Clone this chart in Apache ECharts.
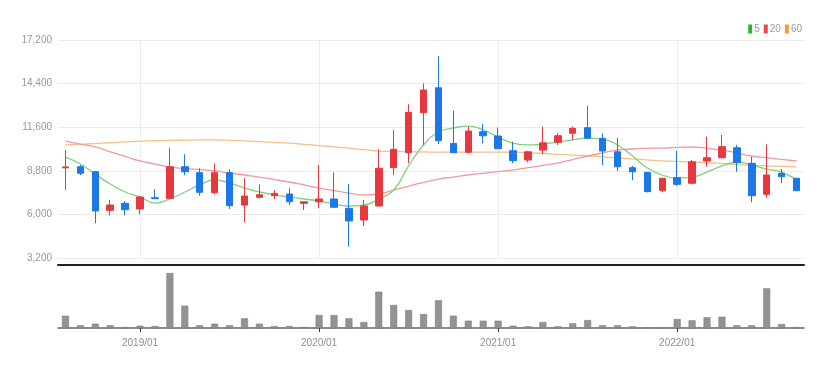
<!DOCTYPE html>
<html>
<head>
<meta charset="utf-8">
<script src="https://cdn.jsdelivr.net/npm/echarts@6/dist/echarts.min.js"></script>
<style>
  html, body { margin: 0; padding: 0; background: #fff; }
  #chart { width: 839px; height: 369px; }
</style>
</head>
<body>
<div id="chart"></div>
<script>
// monthly bars, 2018/08 .. 2022/09
const months = [
  '2018/08', '2018/09', '2018/10', '2018/11', '2018/12',
  '2019/01', '2019/02', '2019/03', '2019/04', '2019/05', '2019/06', '2019/07', '2019/08', '2019/09', '2019/10', '2019/11', '2019/12',
  '2020/01', '2020/02', '2020/03', '2020/04', '2020/05', '2020/06', '2020/07', '2020/08', '2020/09', '2020/10', '2020/11', '2020/12',
  '2021/01', '2021/02', '2021/03', '2021/04', '2021/05', '2021/06', '2021/07', '2021/08', '2021/09', '2021/10', '2021/11', '2021/12',
  '2022/01', '2022/02', '2022/03', '2022/04', '2022/05', '2022/06', '2022/07', '2022/08', '2022/09'
];

const opens = [8990, 9060, 8740, 6260, 6710, 6350, 7070, 7030, 9060, 8680, 7390, 8680, 6600, 7100, 7200, 7310, 6710, 6810, 6990, 6390,
  5640, 6540, 9000, 9960, 12530, 14130, 10560, 9990, 11310, 11030, 10090, 9490, 10130, 10630, 11210, 11570, 10890, 10020, 9000, 8700,
  7520, 8360, 8000, 9430, 9640, 10280, 9280, 7290, 8640, 8320];
const closes = [9050, 8640, 6220, 6600, 6300, 7120, 7010, 9060, 8740, 7420, 8680, 6560, 7180, 7260, 7350, 6810, 6810, 6990, 6460, 5580,
  6540, 8960, 10180, 12550, 13990, 10730, 9960, 11350, 11050, 10220, 9450, 10020, 10600, 11050, 11530, 10890, 10070, 9060, 8740, 7460,
  8320, 7930, 9380, 9640, 10350, 9320, 7200, 8530, 8420, 7520];
const lows = [7570, 8530, 5430, 5920, 5960, 6010, 7000, 7030, 8530, 7200, 7290, 6350, 5490, 7030, 6990, 6600, 6280, 6390, 6460, 3930,
  5250, 6540, 8530, 9280, 10460, 10520, 9960, 9920, 10560, 10220, 9280, 9340, 9860, 10460, 10780, 10890, 9170, 8790, 8210, 7420,
  7420, 7820, 7930, 9060, 9600, 8740, 6780, 7070, 8000, 7500];
const highs = [10130, 9170, 8780, 6920, 6860, 7180, 7610, 10280, 9860, 8960, 9280, 8900, 8320, 7930, 7570, 7680, 6810, 9170, 8700, 7950,
  6920, 10180, 11420, 13070, 14420, 16170, 12660, 11630, 11800, 11580, 10670, 10070, 11630, 11210, 11630, 12980, 11210, 10920, 9110, 8720,
  8330, 10070, 9490, 10990, 11100, 10460, 9700, 10500, 8910, 8330];

const ma5 = [9680, 9240, 8590, 7950, 7440, 7120, 6730, 6990, 7440, 7890, 8210, 8020, 7690, 7440, 7250, 7120, 6990, 6860, 6670, 6540,
  6600, 6990, 7570, 9110, 10460, 11290, 11550, 11670, 11420, 10970, 10580, 10460, 10520, 10650, 10780, 10900, 10840, 10460, 9750, 8980,
  8530, 8340, 8400, 8720, 9110, 9360, 9170, 8910, 8720, 8210];
const ma20 = [10710, 10520, 10330, 10020, 9720, 9430, 9230, 9040, 8950, 8870, 8790, 8660, 8530, 8400, 8240, 8080, 7890, 7690, 7530, 7370,
  7250, 7310, 7570, 7820, 8050, 8270, 8400, 8530, 8640, 8750, 8850, 9000, 9150, 9300, 9520, 9750, 9950, 10130, 10200, 10240,
  10260, 10300, 10330, 10250, 10130, 9950, 9750, 9640, 9530, 9430];
const ma60 = [10460, 10500, 10550, 10600, 10660, 10710, 10730, 10750, 10770, 10780, 10780, 10760, 10720, 10670, 10620, 10580, 10500, 10420, 10340, 10260,
  10160, 10070, 10040, 10020, 10010, 10000, 10000, 10000, 10000, 10000, 10000, 9960, 9910, 9860, 9810, 9760, 9690, 9620, 9560, 9500,
  9440, 9400, 9360, 9330, 9270, 9200, 9150, 9110, 9080, 9050];

const volumes = [307000, 68000, 108000, 68000, 25000, 58000, 50000, 1375000, 558000, 68000, 108000, 68000, 243000, 108000, 50000, 50000, 25000,
  325000, 325000, 243000, 150000, 908000, 575000, 450000, 350000, 693000, 308000, 183000, 183000, 183000, 58000, 43000, 150000, 43000,
  118000, 200000, 68000, 68000, 43000, 18000, 18000, 225000, 193000, 268000, 283000, 68000, 68000, 993000, 100000, 25000];

const priceTicks = [3200, 6000, 8800, 11600, 14400, 17200];

const UP = '#e8383f';
const DOWN = '#1b78e6';
const C5 = '#7fd07f';
const C20 = '#f29a9a';
const C60 = '#f6bf86';
const FONT = '"Liberation Sans Narrow", "Liberation Sans", sans-serif';

const isJan = (idx, val) => /\/01$/.test(val);

const candles = months.map((m, i) => [opens[i], closes[i], lows[i], highs[i]]);

const chart = echarts.init(document.getElementById('chart'));

chart.setOption({
  animation: false,
  legend: {
    top: 19,
    right: 32,
    itemWidth: 4,
    itemHeight: 9,
    itemGap: 4,
    icon: 'rect',
    textStyle: { color: '#999', fontSize: 10, fontFamily: FONT, padding: [0, 0, 0, -3] },
    data: [
      { name: '5', itemStyle: { color: '#2bb52b' } },
      { name: '20', itemStyle: { color: '#ea4a4a' } },
      { name: '60', itemStyle: { color: '#f39a3c' } }
    ]
  },
  grid: [
    { left: 58, right: 35, top: 40, height: 218 },
    { left: 58, right: 35, top: 273, height: 55 }
  ],
  xAxis: [
    {
      type: 'category',
      gridIndex: 0,
      data: months,
      boundaryGap: true,
      offset: 7,
      axisLine: { lineStyle: { color: '#222', width: 2 } },
      axisTick: { show: false },
      axisLabel: { show: false },
      splitLine: { show: true, interval: isJan, alignWithLabel: true, lineStyle: { color: '#eee' } }
    },
    {
      type: 'category',
      gridIndex: 1,
      data: months,
      boundaryGap: true,
      axisLine: { lineStyle: { color: '#666', width: 1.5 } },
      axisTick: { show: true, interval: isJan, alignWithLabel: true, length: 4, lineStyle: { color: '#333' } },
      axisLabel: { interval: isJan, color: '#8a8f99', fontSize: 10, fontFamily: FONT, margin: 10 },
      splitLine: { show: false }
    }
  ],
  yAxis: [
    {
      type: 'value',
      gridIndex: 0,
      min: priceTicks[0],
      max: priceTicks[priceTicks.length - 1],
      interval: priceTicks[1] - priceTicks[0],
      axisLine: { show: false },
      axisTick: { show: false },
      axisLabel: {
        color: '#999',
        fontSize: 10,
        fontFamily: FONT,
        margin: 6,
        formatter: (v) => v.toLocaleString('en-US')
      },
      splitLine: { lineStyle: { color: '#ececec' } }
    },
    {
      type: 'value',
      gridIndex: 1,
      min: 0,
      max: 'dataMax',
      axisLine: { show: false },
      axisTick: { show: false },
      axisLabel: { show: false },
      splitLine: { show: false }
    }
  ],
  series: [
    {
      name: '60', type: 'line', data: ma60, smooth: true, showSymbol: false,
      itemStyle: { color: C60 }, lineStyle: { color: C60, width: 1.3 }, z: 1
    },
    {
      name: '20', type: 'line', data: ma20, smooth: true, showSymbol: false,
      itemStyle: { color: C20 }, lineStyle: { color: C20, width: 1.3 }, z: 1
    },
    {
      name: '5', type: 'line', data: ma5, smooth: true, showSymbol: false,
      itemStyle: { color: C5 }, lineStyle: { color: C5, width: 1.3 }, z: 1
    },
    {
      type: 'candlestick',
      data: candles,
      barWidth: 7,
      itemStyle: { color: UP, color0: DOWN, borderColor: UP, borderColor0: DOWN, borderWidth: 1 },
      z: 3
    },
    {
      type: 'bar',
      xAxisIndex: 1,
      yAxisIndex: 1,
      data: volumes,
      barWidth: 7,
      itemStyle: { color: '#939393', borderColor: '#7d7d7d', borderWidth: 0.5 }
    }
  ]
});
</script>
</body>
</html>
